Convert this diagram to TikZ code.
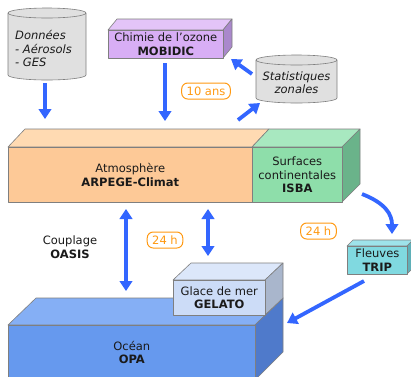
\documentclass[tikz,border=0pt]{standalone}
\usepackage{fontspec}
\setmainfont{DejaVu Sans}
\usetikzlibrary{arrows.meta}
\definecolor{edge}{HTML}{7F7F7F}
\definecolor{orF}{HTML}{FDC997}
\definecolor{orT}{HTML}{FFDAB2}
\definecolor{grF}{HTML}{8EDEAA}
\definecolor{grT}{HTML}{A8E8C0}
\definecolor{grS}{HTML}{6AB38A}
\definecolor{viF}{HTML}{D8AEF5}
\definecolor{viT}{HTML}{E3C4F8}
\definecolor{viS}{HTML}{AA88CC}
\definecolor{cyF}{HTML}{80D9E0}
\definecolor{cyT}{HTML}{9EE3EA}
\definecolor{cyS}{HTML}{5FB0B8}
\definecolor{icF}{HTML}{CCDCF7}
\definecolor{icT}{HTML}{DCE7FA}
\definecolor{icS}{HTML}{A9B6CC}
\definecolor{ocF}{HTML}{6699EE}
\definecolor{ocT}{HTML}{85AFF5}
\definecolor{ocS}{HTML}{4F7ACB}
\definecolor{cylF}{HTML}{E0E0E0}
\definecolor{arr}{HTML}{3366FF}
\definecolor{tagc}{HTML}{FF9911}
\definecolor{ink}{HTML}{1A1A1A}
\tikzset{
  txt/.style={font=\fontsize{11.5}{13.5}\selectfont, align=center, inner sep=0pt, text=ink},
  face/.style={draw=edge, line width=0.6pt, line join=round},
  frontbox/.style={face, anchor=north west, inner sep=0pt, font=\fontsize{11.5}{13.5}\selectfont, align=center, text=ink},
  flow/.style={draw=arr, line width=3.8pt, -{Triangle[width=12.5pt,length=10pt]}},
  flow2/.style={draw=arr, line width=3.8pt, {Triangle[width=12.5pt,length=10pt]}-{Triangle[width=12.5pt,length=10pt]}},
  tag/.style={draw=tagc, text=tagc, line width=1pt, rounded corners=6pt, fill=white,
    font=\fontsize{11.5}{13}\selectfont, inner xsep=5pt, inner ysep=0pt, minimum height=16pt}
}
\begin{document}
\begin{tikzpicture}[x=1pt,y=-1pt]
\clip (0,0) rectangle (411,376);
\fill[white] (0,0) rectangle (411,376);

% Donnees cylinder
\path[face, fill=cylF] (8,13) -- (8,75) arc[start angle=180, end angle=0, x radius=39, y radius=5] -- (86,13) arc[start angle=0, end angle=-180, x radius=39, y radius=5] -- cycle;
\draw[face] (8,13) arc[start angle=180, end angle=0, x radius=39, y radius=5];
\node[txt, anchor=west, align=left, font=\fontsize{11.5}{13.5}\selectfont\itshape] (don) at (15,48.5) {Données\\- Aérosols\\- GES};

% Statistiques cylinder
\path[face, fill=cylF] (256,60) -- (256,98) arc[start angle=180, end angle=0, x radius=40.5, y radius=5] -- (337,60) arc[start angle=0, end angle=-180, x radius=40.5, y radius=5] -- cycle;
\draw[face] (256,60) arc[start angle=180, end angle=0, x radius=40.5, y radius=5];
\node[txt, font=\fontsize{11.5}{13.5}\selectfont\itshape] (stat) at (296.5,82.5) {Statistiques\\zonales};

% MOBIDIC box
\path[face, fill=viT] (108,30) -- (117,19) -- (232,19) -- (223,30) -- cycle;
\path[face, fill=viS] (223,30) -- (232,19) -- (232,47) -- (223,58) -- cycle;
\node[frontbox, fill=viF, minimum width=115pt, minimum height=28pt] (mob) at (108,30) {Chimie de l’ozone\\\textbf{MOBIDIC}};

% Atmosphere + ISBA
\path[face, fill=orT] (8,147) -- (25,129) -- (269,129) -- (252,147) -- cycle;
\path[face, fill=grT] (252,147) -- (269,129) -- (360,129) -- (342,147) -- cycle;
\path[face, fill=grS] (342,147) -- (360,129) -- (360,184) -- (342,202) -- cycle;
\node[frontbox, fill=orF, minimum width=244pt, minimum height=55pt] (atm) at (8,147) {Atmosphère\\\textbf{ARPEGE-Climat}};
\node[frontbox, fill=grF, minimum width=90pt, minimum height=55pt] (isba) at (252,147) {Surfaces\\continentales\\\textbf{ISBA}};

% TRIP box
\path[face, fill=cyT] (347,246) -- (353,240) -- (413,240) -- (407,246) -- cycle;
\path[face, fill=cyS] (407,246) -- (413,240) -- (413,268) -- (407,274) -- cycle;
\node[frontbox, fill=cyF, minimum width=60pt, minimum height=28pt] (trip) at (347,246) {Fleuves\\\textbf{TRIP}};

% Ocean box
\path[face, fill=ocT] (8,325) -- (36,298) -- (283,298) -- (255,325) -- cycle;
\path[face, fill=ocS] (255,325) -- (283,298) -- (283,352) -- (255,380) -- cycle;
\node[frontbox, fill=ocF, minimum width=247pt, minimum height=54pt] (opa) at (8,325) {Océan\\\textbf{OPA}};

% GELATO box
\path[face, fill=icT] (173,280) -- (191,263) -- (283,263) -- (265,280) -- cycle;
\path[face, fill=icS] (265,280) -- (283,263) -- (283,298) -- (265,315) -- cycle;
\node[frontbox, fill=icF, minimum width=92pt, minimum height=35pt] (gel) at (173,280) {Glace de mer\\\textbf{GELATO}};

% labels
\node[txt] (oasis) at (70,247) {Couplage\\\textbf{OASIS}};
\node[tag] (t10) at (206,91) {10 ans};
\node[tag] (t24a) at (165,240) {24 h};
\node[tag] (t24b) at (318.5,231) {24 h};

% connector end points
\coordinate (donB) at (45,83);
\coordinate (atmT1) at (45,119);
\coordinate (mobB) at (165,63);
\coordinate (atmT2) at (165,121);
\coordinate (statL) at (252,74);
\coordinate (mobR) at (231,59);
\coordinate (atmT3) at (238,120);
\coordinate (statB) at (260,103);
\coordinate (atmB1) at (126,209);
\coordinate (opaT) at (126,291);
\coordinate (atmB2) at (208,209);
\coordinate (gelT) at (208,256);
\coordinate (isbaR) at (362,194);
\coordinate (tripT) at (392,234);
\coordinate (tripB) at (364,281);
\coordinate (opaR) at (287,323);

\draw[flow] (donB) -- (atmT1);
\draw[flow] (mobB) -- (atmT2);
\draw[flow] (statL) -- (mobR);
\draw[flow] (atmT3) -- (statB);
\draw[flow2] (atmB1) -- (opaT);
\draw[flow2] (atmB2) -- (gelT);
\draw[flow] (isbaR) .. controls (385,203) and (392,214) .. (tripT);
\draw[flow] (tripB) -- (opaR);
\end{tikzpicture}
\end{document}
